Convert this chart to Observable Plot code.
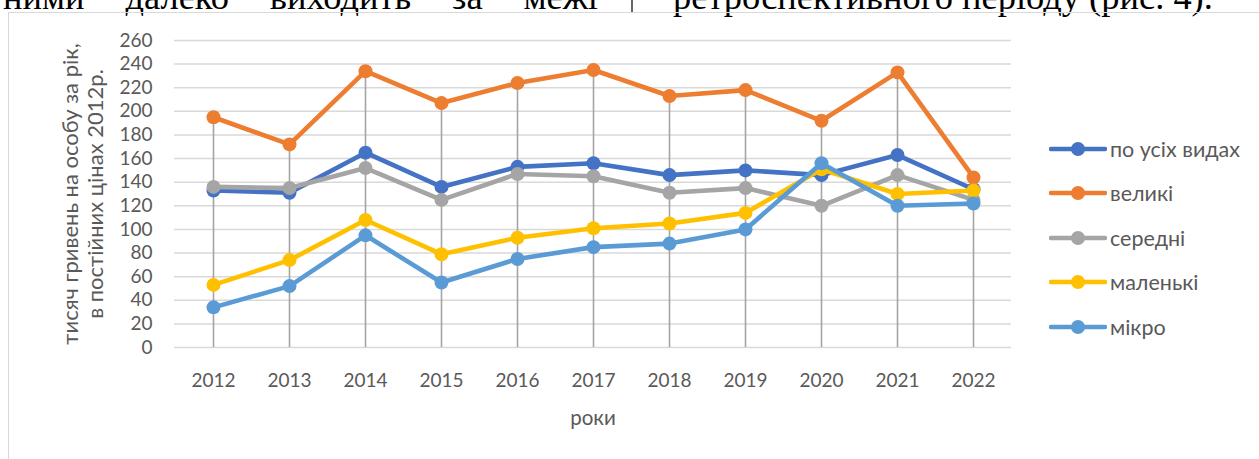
<!DOCTYPE html>
<html>
<head>
<meta charset="utf-8">
<script src="https://cdn.jsdelivr.net/npm/d3@7"></script>
<script src="https://cdn.jsdelivr.net/npm/@observablehq/plot@0.6"></script>
<style>
  html, body { margin: 0; padding: 0; background: #fff; overflow: hidden; }
  #wrap { position: relative; width: 1259px; height: 459px; overflow: hidden; }
  #frame { position: absolute; left: 8px; top: 12px; width: 1400px; height: 600px; border: 1.5px solid #d9d9d9; box-sizing: border-box; }
  #chart { position: absolute; left: 0; top: 0; }
  #toptext { position: absolute; left: 0; top: 0; }
  #legend { position: absolute; left: 1049px; top: 0; font-family: Lato, "Open Sans", sans-serif; font-size: 21.5px; color: #595959; }
  .item { position: absolute; left: 0; display: flex; align-items: center; white-space: nowrap; height: 24px; }
  .item svg { display: block; margin-right: 3px; }
</style>
</head>
<body>
<div id="wrap">
  <svg id="toptext" width="1259" height="20" font-family="'Liberation Serif', 'Times New Roman', serif" font-size="32" fill="#000"></svg>
  <div id="frame"></div>
  <div id="chart"></div>
  <div id="legend"></div>
</div>
<script>
// ---- data ----
const years = ["2012","2013","2014","2015","2016","2017","2018","2019","2020","2021","2022"];
const seriesNames = ["по усіх видах", "великі", "середні", "маленькі", "мікро"];
const seriesColors = ["#4472c4", "#ed7d31", "#a5a5a5", "#ffc000", "#5b9bd5"];
const totalAll = [133, 131, 165, 136, 153, 156, 146, 150, 146, 163, 134];
const large    = [195, 172, 234, 207, 224, 235, 213, 218, 192, 233, 144];
const medium   = [136, 135, 152, 125, 147, 145, 131, 135, 120, 146, 125];
const small    = [ 53,  74, 108,  79,  93, 101, 105, 114, 151, 130, 133];
const micro    = [ 34,  52,  95,  55,  75,  85,  88, 100, 156, 120, 122];
const yTicks = [0, 20, 40, 60, 80, 100, 120, 140, 160, 180, 200, 220, 240, 260];
const yTitle1 = "тисяч гривень на особу за рік,";
const yTitle2 = "в постійних цінах 2012р.";
const xTitle = "роки";
const leftWords = ["ними", "далеко", "виходить", "за", "межі"];
const rightPhrase = "ретроспективного періоду (рис. 4).";

const seriesValues = [totalAll, large, medium, small, micro];

// ---- top clipped body text (justified line, only its lower part visible) ----
const SVGNS = "http://www.w3.org/2000/svg";
const ts = document.getElementById("toptext");
function addText(str, x) {
  const t = document.createElementNS(SVGNS, "text");
  t.setAttribute("x", x);
  t.setAttribute("y", 9);
  t.textContent = str;
  ts.appendChild(t);
  return t;
}
const right = addText(rightPhrase, 673);
const fs = 32 * 540 / right.getComputedTextLength();
ts.setAttribute("font-size", fs);
const wordEls = leftWords.map(w => addText(w, 0));
const widths = wordEls.map(e => e.getComputedTextLength());
const lineStart = 3, lineEnd = 598;
const gap = (lineEnd - lineStart - d3.sum(widths)) / (leftWords.length - 1);
let cx = lineStart;
wordEls.forEach((e, i) => { e.setAttribute("x", cx); cx += widths[i] + gap; });
const bar = document.createElementNS(SVGNS, "line");
bar.setAttribute("x1", 632); bar.setAttribute("x2", 632);
bar.setAttribute("y1", 0); bar.setAttribute("y2", 12);
bar.setAttribute("stroke", "#000"); bar.setAttribute("stroke-width", 1.2);
ts.appendChild(bar);

// ---- tables ----
const rowsBySeries = seriesNames.map((name, s) =>
  years.map((year, i) => ({year, value: seriesValues[s][i], series: name}))
);
const dropRows = years.map((year, i) => ({year, top: d3.max(seriesValues, v => v[i])}));

const marks = [
  Plot.ruleY(yTicks, {stroke: "#d9d9d9", strokeWidth: 1.5}),
  Plot.ruleX(dropRows, {x: "year", y1: 0, y2: "top", stroke: "#a5a5a5", strokeWidth: 1.6})
];
rowsBySeries.forEach((rows, s) => {
  marks.push(Plot.line(rows, {x: "year", y: "value", stroke: seriesColors[s], strokeWidth: 4.6, strokeLinejoin: "round", strokeLinecap: "round"}));
  marks.push(Plot.dot(rows, {x: "year", y: "value", r: 7, fill: seriesColors[s], stroke: "none"}));
});
marks.push(
  Plot.axisY(yTicks, {tickSize: 0, tickPadding: 22, label: null, fontSize: 19}),
  Plot.axisX({tickSize: 0, tickPadding: 26, label: null, fontSize: 19}),
  Plot.text([yTitle1], {text: d => d, frameAnchor: "left", textAnchor: "middle", lineAnchor: "middle", rotate: -90, dx: -104, fontSize: 22, fill: "#595959"}),
  Plot.text([yTitle2], {text: d => d, frameAnchor: "left", textAnchor: "middle", lineAnchor: "middle", rotate: -90, dx: -79, fontSize: 22, fill: "#595959"}),
  Plot.text([xTitle], {text: d => d, frameAnchor: "bottom", dy: 77, fontSize: 20.5, fill: "#595959"})
);

const chart = Plot.plot({
  width: 1259,
  height: 459,
  marginLeft: 174,
  marginRight: 248,
  marginTop: 40,
  marginBottom: 112,
  style: {background: "transparent", fontFamily: "Lato, 'Open Sans', sans-serif", fontSize: "19px", color: "#595959", overflow: "visible"},
  x: {type: "point", domain: years, padding: 0.5},
  y: {domain: [0, 260]},
  marks
});
document.getElementById("chart").appendChild(chart);

// ---- legend ----
const legend = document.getElementById("legend");
seriesNames.forEach((name, s) => {
  const item = document.createElement("div");
  item.className = "item";
  item.style.top = (148.5 + s * 44.6 - 12) + "px";
  item.innerHTML = `<svg width="58" height="16"><line x1="2" x2="56" y1="8" y2="8" stroke="${seriesColors[s]}" stroke-width="4.6" stroke-linecap="round"/><circle cx="29" cy="8" r="7" fill="${seriesColors[s]}"/></svg><span>${name}</span>`;
  legend.appendChild(item);
});
</script>
</body>
</html>
